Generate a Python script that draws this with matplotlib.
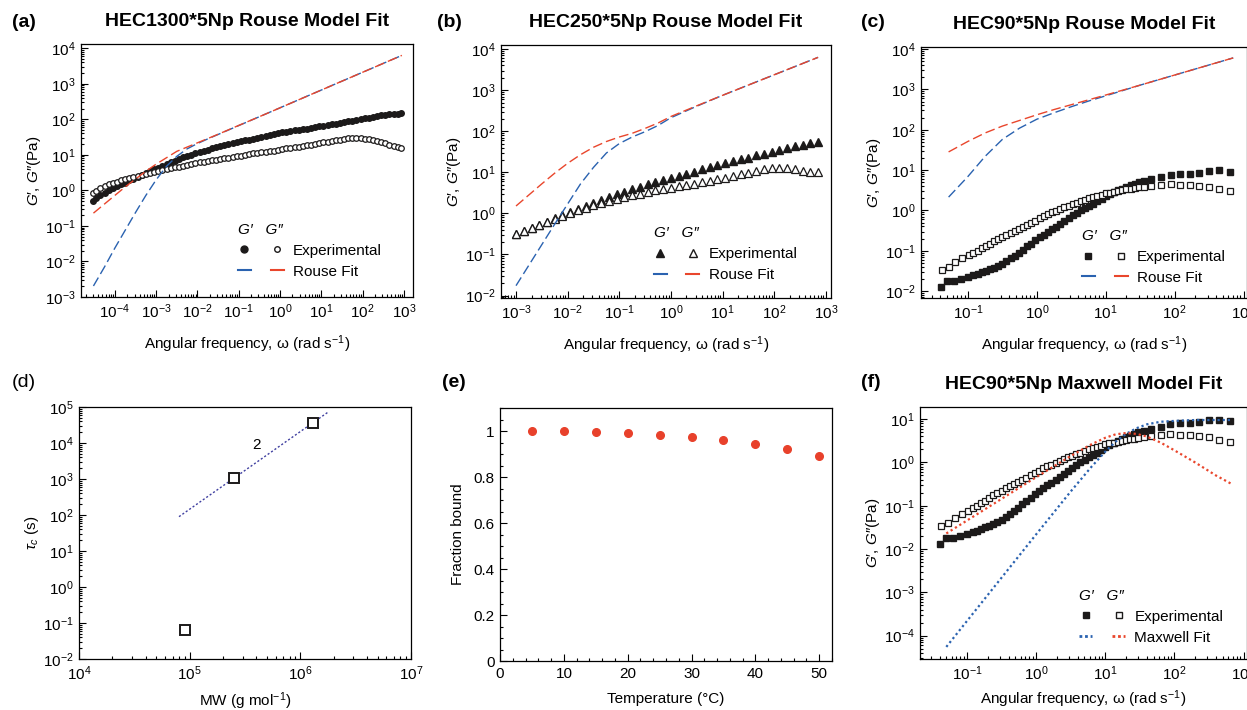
import matplotlib
matplotlib.use("Agg")
import matplotlib.pyplot as plt
import numpy as np
from matplotlib.legend_handler import HandlerTuple
from matplotlib.lines import Line2D
from matplotlib.ticker import LogLocator, NullFormatter, MultipleLocator, FuncFormatter

plt.rcParams["font.family"] = ["Liberation Sans", "DejaVu Sans"]
plt.rcParams["mathtext.fontset"] = "custom"
plt.rcParams["mathtext.rm"] = "Liberation Sans"
plt.rcParams["mathtext.it"] = "Liberation Sans:italic"
plt.rcParams["mathtext.bf"] = "Liberation Sans:bold"
plt.rcParams["font.size"] = 11
plt.rcParams["axes.linewidth"] = 0.9

BLUE = "#2a62b0"
RED = "#e9462c"
BLACK = "#1c1a1a"

# ---- (a) HEC1300*5Np, log10 values ----
a_w = [-4.53, -4.45, -4.35, -4.25, -4.15, -4.05, -3.95, -3.85, -3.75, -3.65, -3.55, -3.45, -3.35,
       -3.25, -3.15, -3.05, -2.95, -2.85, -2.75, -2.65, -2.55, -2.45, -2.35, -2.25, -2.15, -2.05,
       -1.95, -1.85, -1.75, -1.65, -1.55, -1.45, -1.35, -1.25, -1.15, -1.05, -0.95, -0.85, -0.75,
       -0.65, -0.55, -0.45, -0.35, -0.25, -0.15, -0.05, 0.05, 0.15, 0.25, 0.35, 0.45, 0.55, 0.65,
       0.75, 0.85, 0.95, 1.05, 1.15, 1.25, 1.35, 1.45, 1.55, 1.65, 1.75, 1.85, 1.95, 2.05, 2.15,
       2.25, 2.35, 2.45, 2.55, 2.65, 2.75, 2.85, 2.93]
a_gp = [-0.29, -0.22, -0.14, -0.06, 0.01, 0.07, 0.12, 0.17, 0.22, 0.28, 0.33, 0.38, 0.43,
        0.48, 0.54, 0.60, 0.64, 0.69, 0.74, 0.79, 0.84, 0.88, 0.93, 0.97, 1.01, 1.05,
        1.09, 1.12, 1.15, 1.18, 1.21, 1.24, 1.27, 1.30, 1.33, 1.35, 1.38, 1.41, 1.43,
        1.46, 1.48, 1.51, 1.53, 1.56, 1.58, 1.61, 1.63, 1.65, 1.67, 1.69, 1.71, 1.72, 1.74,
        1.76, 1.78, 1.80, 1.82, 1.84, 1.86, 1.88, 1.90, 1.92, 1.94, 1.96, 1.98, 2.00, 2.03, 2.05,
        2.07, 2.09, 2.11, 2.12, 2.14, 2.15, 2.16, 2.17]
a_gpp = [-0.07, -0.01, 0.06, 0.12, 0.17, 0.21, 0.24, 0.28, 0.31, 0.35, 0.38, 0.41, 0.44,
         0.47, 0.50, 0.53, 0.56, 0.58, 0.61, 0.63, 0.65, 0.67, 0.70, 0.72, 0.74, 0.77,
         0.79, 0.81, 0.83, 0.85, 0.86, 0.88, 0.90, 0.92, 0.94, 0.96, 0.98, 1.00, 1.02,
         1.04, 1.05, 1.07, 1.09, 1.11, 1.12, 1.14, 1.16, 1.18, 1.19, 1.21, 1.23, 1.25, 1.27,
         1.29, 1.31, 1.33, 1.35, 1.37, 1.39, 1.41, 1.43, 1.45, 1.47, 1.48, 1.48, 1.48, 1.46, 1.44,
         1.42, 1.39, 1.36, 1.33, 1.29, 1.25, 1.21, 1.18]
a_fit_w = [-4.52, -4.25, -4.0, -3.75, -3.5, -3.25, -3.0, -2.75, -2.5, -2.25, -2.0, -1.75, -1.5,
           -1.0, -0.5, 0.0, 1.0, 2.0, 2.95]
a_fit_gp = [-2.69, -2.15, -1.62, -1.12, -0.62, -0.14, 0.30, 0.68, 0.96, 1.17, 1.32, 1.45, 1.575,
            1.825, 2.075, 2.325, 2.825, 3.325, 3.80]
a_fit_gpp = [-0.64, -0.38, -0.14, 0.10, 0.32, 0.54, 0.74, 0.92, 1.10, 1.22, 1.34, 1.46, 1.58,
             1.83, 2.075, 2.325, 2.825, 3.325, 3.80]

# ---- (b) HEC250*5Np ----
b_w = [-3.0, -2.85, -2.7, -2.55, -2.4, -2.25, -2.1, -1.95, -1.8, -1.65, -1.5, -1.35, -1.2, -1.05,
       -0.9, -0.75, -0.6, -0.45, -0.3, -0.15, 0.0, 0.15, 0.3, 0.45, 0.6, 0.75, 0.9, 1.05, 1.2,
       1.35, 1.5, 1.65, 1.8, 1.95, 2.1, 2.25, 2.4, 2.55, 2.7, 2.85]
b_gp = [-0.49, -0.43, -0.36, -0.28, -0.20, -0.12, -0.04, 0.03, 0.10, 0.18, 0.25, 0.32, 0.39, 0.46,
        0.52, 0.59, 0.65, 0.71, 0.77, 0.82, 0.87, 0.92, 0.97, 1.02, 1.07, 1.12, 1.17, 1.22, 1.27,
        1.32, 1.36, 1.41, 1.45, 1.50, 1.54, 1.59, 1.63, 1.67, 1.71, 1.74]
b_gpp = [-0.49, -0.43, -0.36, -0.28, -0.21, -0.13, -0.06, 0.01, 0.08, 0.14, 0.20, 0.26, 0.31, 0.36,
         0.40, 0.44, 0.48, 0.52, 0.56, 0.59, 0.62, 0.66, 0.69, 0.72, 0.76, 0.79, 0.83, 0.87, 0.91,
         0.95, 0.99, 1.03, 1.07, 1.10, 1.11, 1.10, 1.07, 1.04, 1.02, 1.01]
b_fit_w = [-3.0, -2.75, -2.5, -2.25, -2.0, -1.75, -1.5, -1.25, -1.0, -0.75, -0.5, -0.25, 0.0, 0.5,
           1.0, 2.0, 2.85]
b_fit_gp = [-1.76, -1.26, -0.76, -0.26, 0.23, 0.72, 1.12, 1.47, 1.70, 1.86, 1.99, 2.14, 2.33, 2.61,
            2.875, 3.375, 3.80]
b_fit_gpp = [0.18, 0.45, 0.72, 0.98, 1.22, 1.43, 1.61, 1.75, 1.86, 1.95, 2.07, 2.20, 2.36, 2.62,
             2.875, 3.375, 3.80]

# ---- (c) and (f) HEC90*5Np ----
c_w_gp = [-1.39, -1.30, -1.20, -1.10, -1.00, -0.92, -0.86, -0.80, -0.74, -0.68, -0.62, -0.56,
          -0.50, -0.44, -0.38, -0.32, -0.26, -0.20, -0.14, -0.08, -0.02, 0.04, 0.10, 0.16, 0.22,
          0.28, 0.34, 0.40, 0.46, 0.52, 0.58, 0.64, 0.70, 0.76, 0.82, 0.88, 0.94, 1.00, 1.06,
          1.12, 1.18, 1.24, 1.30, 1.36, 1.42, 1.48, 1.56, 1.66, 1.80, 1.94, 2.08, 2.22, 2.36,
          2.50, 2.64, 2.81]
c_gp = [-1.89, -1.74, -1.75, -1.70, -1.65, -1.61, -1.58, -1.53, -1.50, -1.46, -1.42, -1.38,
        -1.32, -1.26, -1.19, -1.12, -1.05, -0.97, -0.89, -0.82, -0.74, -0.66, -0.60, -0.53, -0.47,
        -0.40, -0.33, -0.26, -0.19, -0.12, -0.06, 0.00, 0.05, 0.12, 0.17, 0.23, 0.29, 0.35, 0.40,
        0.45, 0.50, 0.54, 0.58, 0.62, 0.65, 0.70, 0.72, 0.77, 0.82, 0.88, 0.90, 0.91, 0.93,
        0.97, 0.99, 0.96]
c_w_gpp = [-1.38, -1.28, -1.18, -1.08, -0.98, -0.92, -0.86, -0.80, -0.74, -0.68, -0.62, -0.56,
           -0.50, -0.44, -0.38, -0.32, -0.26, -0.20, -0.14, -0.08, -0.02, 0.04, 0.10, 0.16, 0.22,
           0.28, 0.34, 0.40, 0.46, 0.52, 0.58, 0.64, 0.70, 0.76, 0.82, 0.88, 0.94, 1.00, 1.06,
           1.12, 1.18, 1.24, 1.30, 1.36, 1.42, 1.48, 1.56, 1.66, 1.80, 1.94, 2.08, 2.22, 2.36,
           2.50, 2.64, 2.81]
c_gpp = [-1.47, -1.39, -1.28, -1.19, -1.11, -1.06, -1.00, -0.94, -0.88, -0.82, -0.75, -0.70,
         -0.65, -0.60, -0.55, -0.50, -0.46, -0.41, -0.35, -0.30, -0.25, -0.19, -0.13, -0.09, -0.05,
         -0.01, 0.03, 0.08, 0.12, 0.16, 0.19, 0.23, 0.26, 0.30, 0.33, 0.36, 0.39, 0.42, 0.44,
         0.46, 0.48, 0.50, 0.52, 0.54, 0.55, 0.57, 0.59, 0.61, 0.63, 0.65, 0.64, 0.63, 0.61,
         0.58, 0.53, 0.47]
c_fit_w = [-1.28, -1.0, -0.75, -0.5, -0.25, 0.0, 0.25, 0.5, 0.75, 1.0, 1.5, 2.0, 2.85]
c_fit_gp = [0.33, 0.84, 1.34, 1.76, 2.04, 2.26, 2.42, 2.57, 2.71, 2.84, 3.105, 3.355, 3.78]
c_fit_gpp = [1.45, 1.71, 1.92, 2.09, 2.23, 2.37, 2.50, 2.62, 2.74, 2.86, 3.105, 3.355, 3.78]

f_fit_w = [-1.3, -1.0, -0.5, 0.0, 0.5, 0.8, 1.0, 1.15, 1.3, 1.45, 1.6, 1.8, 2.0, 2.3, 2.6, 2.82]
f_fit_gp = [-4.26, -3.66, -2.66, -1.66, -0.67, -0.10, 0.25, 0.48, 0.66, 0.79, 0.88, 0.94, 0.96,
            0.98, 0.98, 0.98]
f_fit_gpp = [-1.64, -1.34, -0.84, -0.34, 0.15, 0.42, 0.57, 0.65, 0.68, 0.66, 0.60, 0.46, 0.28,
             0.00, -0.30, -0.49]

# ---- (d) relaxation time vs MW ----
d_mw = [1.3e6, 2.5e5, 9.0e4]
d_tau = [3.7e4, 1.1e3, 0.066]
d_fit_mw = [8.0e4, 1.8e6]
d_fit_tau = [90.0, 7.4e4]

# ---- (e) fraction bound vs temperature ----
e_temp = [5, 10, 15, 20, 25, 30, 35, 40, 45, 50]
e_frac = [1.0, 0.999, 0.996, 0.991, 0.984, 0.975, 0.962, 0.944, 0.920, 0.891]

GLABEL = "$G$′, $G$″(Pa)"


def p10(v):
    return 10 ** np.asarray(v)


def style_log(ax, xlim, ylim):
    ax.set_xscale("log")
    ax.set_yscale("log")
    ax.set_xlim(*xlim)
    ax.set_ylim(*ylim)
    for axis in (ax.xaxis, ax.yaxis):
        axis.set_major_locator(LogLocator(base=10, numticks=20))
        axis.set_minor_locator(LogLocator(base=10, subs=np.arange(2, 10), numticks=20))
        axis.set_minor_formatter(NullFormatter())
    ax.tick_params(which="both", direction="in", top=False, right=False, width=0.8)
    ax.tick_params(which="major", length=5, pad=4)
    ax.tick_params(which="minor", length=2.5)


def gg_legend(ax, handles, fit_label, anchor):
    ax.legend([handles[:2], handles[2:]], ["Experimental", fit_label],
              handler_map={tuple: HandlerTuple(ndivide=None, pad=1.3)},
              handlelength=3.0, title="G′   G″", alignment="left",
              title_fontproperties={"style": "italic", "size": 11},
              loc="lower left", bbox_to_anchor=anchor, frameon=False,
              fontsize=11, borderpad=0.2, handletextpad=0.6, labelspacing=0.45)


def rouse_panel(ax, w_gp, gp, w_gpp, gpp, fw, fgp, fgpp, marker, msize, dotted, fit_label,
                xlim, ylim, anchor, title):
    if dotted:
        fit_ls, fit_lw = (0, (1, 1.3)), 1.6
    else:
        fit_ls, fit_lw = (0, (7, 3)), 1.0
    ax.plot(p10(w_gp), p10(gp), ls="none", marker=marker, ms=msize, color=BLACK, mec=BLACK)
    ax.plot(p10(w_gpp), p10(gpp), ls="none", marker=marker, ms=msize, mfc="white", mec=BLACK,
            mew=0.9)
    ax.plot(p10(fw), p10(fgp), ls=fit_ls, lw=fit_lw, color=BLUE)
    ax.plot(p10(fw), p10(fgpp), ls=fit_ls, lw=fit_lw, color=RED)
    style_log(ax, xlim, ylim)
    ax.set_xlabel("Angular frequency, ω (rad s$^{-1}$)", labelpad=9)
    ax.set_ylabel(GLABEL, labelpad=1)
    ax.set_title(title, fontweight="bold", fontsize=14, pad=13)
    h1 = Line2D([], [], ls="none", marker=marker, ms=msize + 1, color=BLACK)
    h2 = Line2D([], [], ls="none", marker=marker, ms=msize, mfc="white", mec=BLACK, mew=1.0)
    if dotted:
        h3 = Line2D([], [], ls=(0, (1, 1.0)), lw=2.0, color=BLUE)
        h4 = Line2D([], [], ls=(0, (1, 1.0)), lw=2.0, color=RED)
    else:
        h3 = Line2D([], [], ls="-", lw=1.5, color=BLUE)
        h4 = Line2D([], [], ls="-", lw=1.5, color=RED)
    gg_legend(ax, (h1, h2, h3, h4), fit_label, anchor)


fig = plt.figure(figsize=(12.47, 7.10), dpi=100)

ax_a = fig.add_axes([0.0650, 0.5817, 0.2662, 0.3563])
rouse_panel(ax_a, a_w, a_gp, a_w, a_gpp, a_fit_w, a_fit_gp, a_fit_gpp, "o", 4.0, False,
            "Rouse Fit", (10 ** -4.82, 10 ** 3.22), (1e-3, 10 ** 4.12), (0.44, 0.03),
            "HEC1300*5Np Rouse Model Fit")

ax_b = fig.add_axes([0.4018, 0.5803, 0.2646, 0.3563])
rouse_panel(ax_b, b_w, b_gp, b_w, b_gpp, b_fit_w, b_fit_gp, b_fit_gpp, "^", 5.2, False,
            "Rouse Fit", (10 ** -3.29, 10 ** 3.10), (10 ** -2.06, 10 ** 4.1), (0.43, 0.02),
            "HEC250*5Np Rouse Model Fit")

ax_c = fig.add_axes([0.7386, 0.5803, 0.2614, 0.3535])
rouse_panel(ax_c, c_w_gp, c_gp, c_w_gpp, c_gpp, c_fit_w, c_fit_gp, c_fit_gpp, "s", 3.8, False,
            "Rouse Fit", (10 ** -1.68, 10 ** 3.05), (10 ** -2.17, 10 ** 4.05), (0.46, 0.01),
            "HEC90*5Np Rouse Model Fit")

ax_f = fig.add_axes([0.7378, 0.0718, 0.2622, 0.3549])
rouse_panel(ax_f, c_w_gp, c_gp, c_w_gpp, c_gpp, f_fit_w, f_fit_gp, f_fit_gpp, "s", 3.8, True,
            "Maxwell Fit", (10 ** -1.68, 10 ** 3.05), (10 ** -4.54, 10 ** 1.28), (0.455, 0.015),
            "HEC90*5Np Maxwell Model Fit")
ax_f.xaxis.labelpad = 4

# (d)
ax_d = fig.add_axes([0.0634, 0.0718, 0.2662, 0.3549])
ax_d.plot(d_fit_mw, d_fit_tau, ls=(0, (1.5, 1.5)), lw=1.0, color="#3f3fa0")
ax_d.plot(d_mw, d_tau, ls="none", marker="s", ms=7, mfc="white", mec=BLACK, mew=1.4)
ax_d.text(4.0e5, 9.0e3, "2", fontsize=11, ha="center", va="center")
style_log(ax_d, (1e4, 1e7), (1e-2, 1e5))
ax_d.set_xlabel("MW (g mol$^{-1}$)", labelpad=5)
ax_d.set_ylabel(r"$\tau_c$ (s)", labelpad=1)

# (e)
ax_e = fig.add_axes([0.4010, 0.0690, 0.2662, 0.3563])
ax_e.plot(e_temp, e_frac, ls="none", marker="o", ms=5.5, color="#e8412b")
ax_e.set_xlim(0, 52)
ax_e.set_ylim(0, 1.1)
ax_e.xaxis.set_major_locator(MultipleLocator(10))
ax_e.xaxis.set_minor_locator(MultipleLocator(2))
ax_e.yaxis.set_major_locator(MultipleLocator(0.2))
ax_e.yaxis.set_minor_locator(MultipleLocator(0.05))
ax_e.yaxis.set_major_formatter(FuncFormatter(lambda v, p: "{:g}".format(round(v, 2))))
ax_e.tick_params(which="both", direction="in", top=False, right=False, width=0.8)
ax_e.tick_params(which="major", length=5, pad=4)
ax_e.tick_params(which="minor", length=2.5)
ax_e.set_xlabel("Temperature (°C)", labelpad=8)
ax_e.set_ylabel("Fraction bound", labelpad=6)

# panel letters
for x, y, lab, wt in [(0.0096, 0.969, "(a)", "bold"), (0.3504, 0.969, "(b)", "bold"),
                      (0.6905, 0.969, "(c)", "bold"), (0.0096, 0.4606, "(d)", "normal"),
                      (0.3545, 0.4606, "(e)", "bold"), (0.6905, 0.4606, "(f)", "bold")]:
    fig.text(x, y, lab, fontsize=14, fontweight=wt, va="center", ha="left")

fig.savefig("out.png", dpi=100)
